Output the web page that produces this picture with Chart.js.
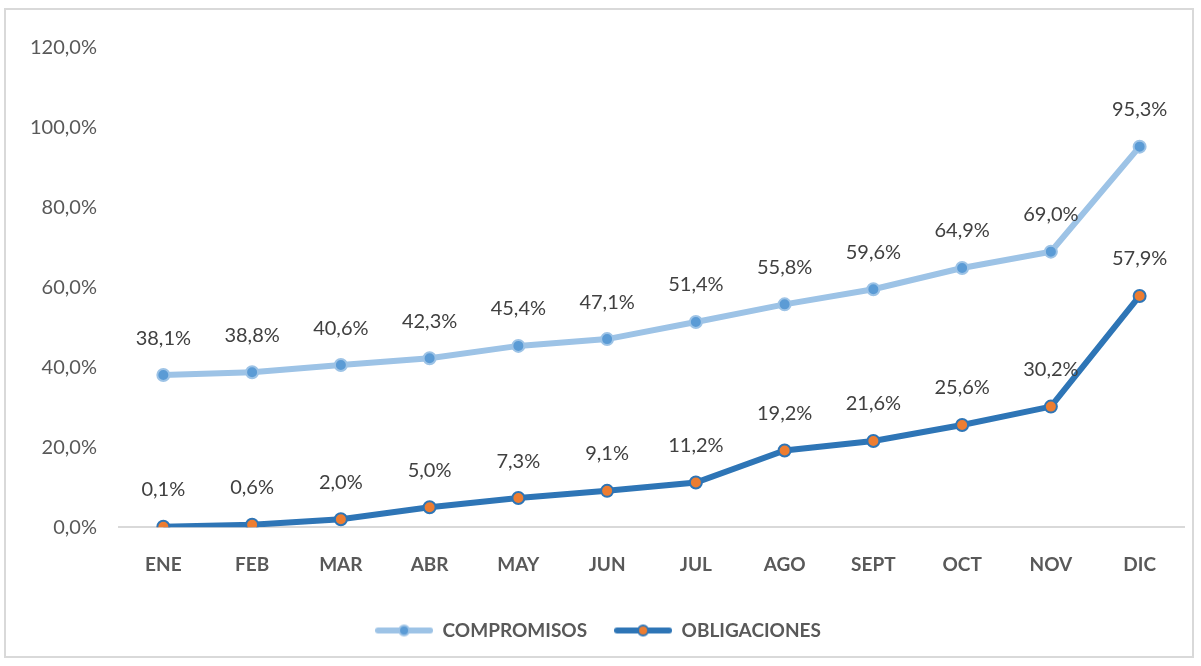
<!DOCTYPE html>
<html>
<head>
<meta charset="utf-8">
<script src="https://cdn.jsdelivr.net/npm/chart.js@4.4.1/dist/chart.umd.min.js"></script>
<style>
  html, body { margin: 0; padding: 0; background: #fff; }
  #box {
    position: absolute; left: 4px; top: 8px;
    width: 1190px; height: 650px;
    border: 2px solid #d9d9d9; box-sizing: border-box;
  }
  #box canvas { display: block; }
</style>
</head>
<body>
<div id="box"><canvas id="chart"></canvas></div>
<script>
// ── Data ──
const months = ['ENE','FEB','MAR','ABR','MAY','JUN','JUL','AGO','SEPT','OCT','NOV','DIC'];
const compromisos = [38.1, 38.8, 40.6, 42.3, 45.4, 47.1, 51.4, 55.8, 59.6, 64.9, 69.0, 95.3];
const obligaciones = [0.1, 0.6, 2.0, 5.0, 7.3, 9.1, 11.2, 19.2, 21.6, 25.6, 30.2, 57.9];

const fmt = v => v.toFixed(1).replace('.', ',') + '%';
const fontFamily = "Lato, 'Open Sans', sans-serif";

// legend marker: short line with a dot in the middle
function legendMarker(lineColor, dotColor, dotBorder) {
    const c = document.createElement('canvas');
    c.width = 58; c.height = 14;
    const g = c.getContext('2d');
    g.strokeStyle = lineColor; g.lineWidth = 6; g.lineCap = 'round';
    g.beginPath(); g.moveTo(3, 7); g.lineTo(55, 7); g.stroke();
    g.fillStyle = dotColor; g.strokeStyle = dotBorder; g.lineWidth = 2;
    g.beginPath(); g.arc(29, 7, 5, 0, Math.PI * 2); g.fill(); g.stroke();
    return c;
}

// value labels above each point
const valueLabels = {
    id: 'valueLabels',
    afterDatasetsDraw(chart) {
        const ctx = chart.ctx;
        ctx.save();
        ctx.font = '20px ' + fontFamily;
        ctx.fillStyle = '#404040';
        ctx.textAlign = 'center';
        ctx.textBaseline = 'middle';
        chart.data.datasets.forEach((ds, i) => {
            chart.getDatasetMeta(i).data.forEach((pt, j) => {
                ctx.fillText(fmt(ds.data[j]), pt.x, pt.y - 37);
            });
        });
        ctx.restore();
    }
};

new Chart(document.getElementById('chart'), {
    type: 'line',
    data: {
        labels: months,
        datasets: [{
            label: 'COMPROMISOS',
            data: compromisos,
            borderColor: '#9dc3e6',
            borderWidth: 6,
            pointBackgroundColor: '#5b9bd5',
            pointBorderColor: '#9dc3e6',
            pointBorderWidth: 2,
            pointRadius: 6,
            tension: 0
        }, {
            label: 'OBLIGACIONES',
            data: obligaciones,
            borderColor: '#2e75b6',
            borderWidth: 6,
            pointBackgroundColor: '#ed7d31',
            pointBorderColor: '#2e75b6',
            pointBorderWidth: 2,
            pointRadius: 6,
            tension: 0
        }]
    },
    options: {
        responsive: true,
        maintainAspectRatio: false,
        animation: false,
        layout: { padding: { left: 2, right: 4, top: 38, bottom: 6 } },
        plugins: {
            tooltip: { enabled: false },
            legend: {
                position: 'bottom',
                labels: {
                    usePointStyle: true,
                    pointStyleWidth: 58,
                    padding: 27,
                    color: '#595959',
                    font: { family: fontFamily, size: 19, weight: 'bold' },
                    generateLabels() {
                        return [
                            { text: 'COMPROMISOS', pointStyle: legendMarker('#9dc3e6', '#5b9bd5', '#9dc3e6'), datasetIndex: 0, fontColor: '#595959', lineWidth: 0 },
                            { text: 'OBLIGACIONES', pointStyle: legendMarker('#2e75b6', '#ed7d31', '#2e75b6'), datasetIndex: 1, fontColor: '#595959', lineWidth: 0 }
                        ];
                    }
                }
            }
        },
        scales: {
            x: {
                offset: true,
                grid: { display: false },
                border: { color: '#d9d9d9', width: 2 },
                ticks: { color: '#595959', padding: 18, font: { family: fontFamily, size: 19, weight: 'bold' } }
            },
            y: {
                min: 0, max: 120,
                border: { display: false },
                grid: { drawTicks: false, color: c => c.tick.value === 0 ? '#d9d9d9' : 'transparent', lineWidth: 2 },
                ticks: { stepSize: 20, padding: 22, color: '#595959', callback: v => fmt(v), font: { family: fontFamily, size: 20 } }
            }
        }
    },
    plugins: [valueLabels]
});
</script>
</body>
</html>
